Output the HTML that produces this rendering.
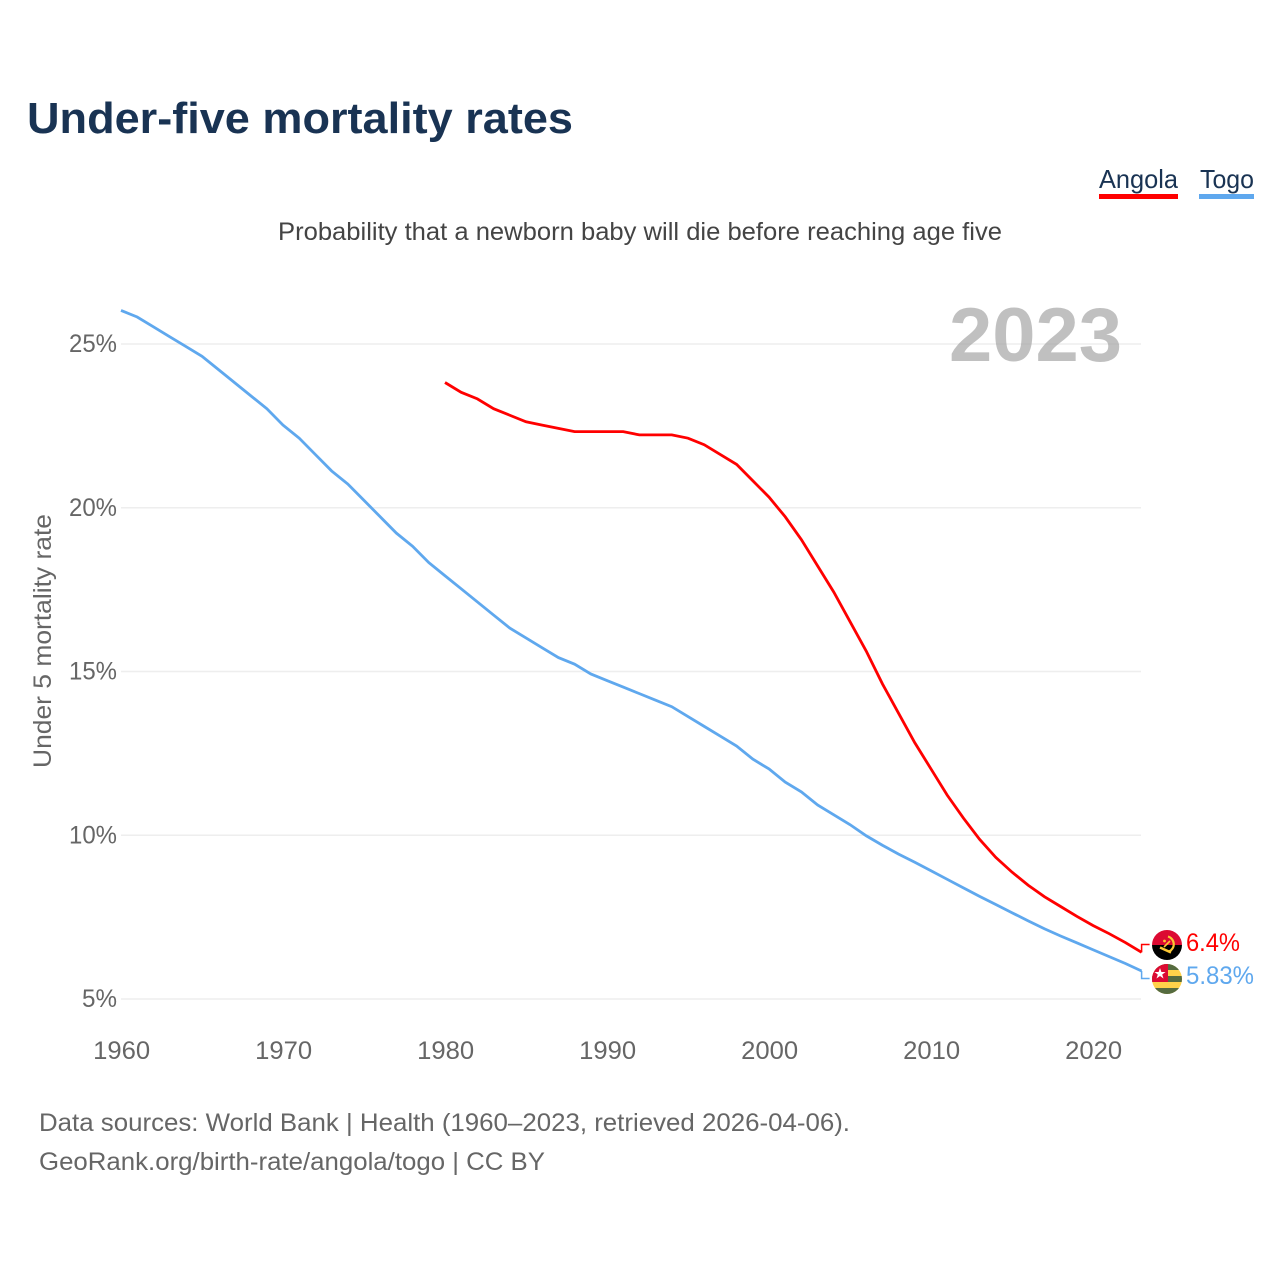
<!DOCTYPE html>
<html lang="en">
<head>
<meta charset="utf-8">
<title>Under-five mortality rates</title>
<style>
html,body{margin:0;padding:0;background:#fff;}
svg{display:block;}
text{font-family:"Liberation Sans",sans-serif;}
</style>
</head>
<body>
<svg id="chart" xmlns="http://www.w3.org/2000/svg" width="1280" height="1280" viewBox="0 0 1280 1280">
  <rect width="1280" height="1280" fill="#fff"/>
  <text x="27" y="133" font-size="44" font-weight="700" fill="#193353" textLength="546" lengthAdjust="spacingAndGlyphs">Under-five mortality rates</text>
  <g>
    <text x="1099" y="188" font-size="26" fill="#193353" textLength="79" lengthAdjust="spacingAndGlyphs">Angola</text>
    <rect x="1099" y="194" width="79" height="5" fill="#ff0000"/>
  </g>
  <g>
    <text x="1200" y="188" font-size="26" fill="#193353" textLength="54" lengthAdjust="spacingAndGlyphs">Togo</text>
    <rect x="1199" y="194" width="55" height="5" fill="#5fa8ee"/>
  </g>
  <text x="278" y="240" font-size="25" fill="#444" textLength="724" lengthAdjust="spacingAndGlyphs">Probability that a newborn baby will die before reaching age five</text>
  <g id="grid"></g>
  <text x="1122" y="361" font-size="76" font-weight="700" fill="#999" fill-opacity="0.62" text-anchor="end" textLength="173" lengthAdjust="spacingAndGlyphs">2023</text>
  <g id="yticks"></g>
  <g id="xticks"></g>
  <text transform="translate(51,768) rotate(-90)" font-size="25" fill="#666" textLength="254" lengthAdjust="spacingAndGlyphs">Under 5 mortality rate</text>
  <g id="series"></g>

  <defs>
    <clipPath id="clip-angola"><circle cx="1167" cy="945" r="15"/></clipPath>
    <clipPath id="clip-togo"><circle cx="1167" cy="979" r="15"/></clipPath>
  </defs>
  <g clip-path="url(#clip-angola)">
    <rect x="1152" y="930" width="30" height="15" fill="#dc0a32"/>
    <rect x="1152" y="945" width="30" height="15" fill="#000"/>
    <path d="M1168 936.5 a8 8 0 0 1 1 15" fill="none" stroke="#fcc733" stroke-width="2.2"/>
    <path d="M1160 947.5 l11 5" fill="none" stroke="#fcc733" stroke-width="2.4"/>
    <path d="M1164 947 l6 -6" fill="none" stroke="#fcc733" stroke-width="1.6"/>
    <circle cx="1164.5" cy="941" r="1.4" fill="#fcc733"/>
  </g>
  <g clip-path="url(#clip-togo)">
    <rect x="1152" y="964" width="30" height="30" fill="#ffd24a"/>
    <rect x="1152" y="964" width="30" height="6" fill="#556b40"/>
    <rect x="1152" y="976" width="30" height="6" fill="#556b40"/>
    <rect x="1152" y="988" width="30" height="6" fill="#556b40"/>
    <rect x="1152" y="964" width="16" height="18" fill="#dc0a32"/>
    <path d="M1160 968 l1.4 4 4.2 0 -3.4 2.5 1.3 4 -3.5 -2.5 -3.5 2.5 1.3 -4 -3.4 -2.5 4.2 0z" fill="#fff"/>
  </g>
  <text x="1186" y="951" font-size="25" fill="#ff0000" textLength="54" lengthAdjust="spacingAndGlyphs">6.4%</text>
  <text x="1186" y="984" font-size="25" fill="#5fa8ee" textLength="68" lengthAdjust="spacingAndGlyphs">5.83%</text>

  <g>
    <text x="39" y="1131" font-size="25" fill="#666" textLength="811" lengthAdjust="spacingAndGlyphs">Data sources: World Bank | Health (1960–2023, retrieved 2026-04-06).</text>
    <text x="39" y="1170" font-size="25" fill="#666" textLength="506" lengthAdjust="spacingAndGlyphs">GeoRank.org/birth-rate/angola/togo | CC BY</text>
  </g>
</svg>
<script>
const togoStartYear = 1960;
const angolaStartYear = 1980;
const togoValues = [26.0,25.8,25.5,25.2,24.9,24.6,24.2,23.8,23.4,23.0,22.5,22.1,21.6,21.1,20.7,20.2,19.7,19.2,18.8,18.3,17.9,17.5,17.1,16.7,16.3,16.0,15.7,15.4,15.2,14.9,14.7,14.5,14.3,14.1,13.9,13.6,13.3,13.0,12.7,12.3,12.0,11.6,11.3,10.9,10.6,10.3,9.96,9.67,9.4,9.15,8.89,8.63,8.37,8.11,7.86,7.61,7.36,7.12,6.90,6.69,6.48,6.27,6.06,5.83];
const angolaValues = [23.8,23.5,23.3,23.0,22.8,22.6,22.5,22.4,22.3,22.3,22.3,22.3,22.2,22.2,22.2,22.1,21.9,21.6,21.3,20.8,20.3,19.7,19.0,18.2,17.4,16.5,15.6,14.6,13.7,12.8,12.0,11.2,10.5,9.85,9.3,8.85,8.45,8.1,7.8,7.5,7.22,6.97,6.7,6.4];
const yTickValues = [5,10,15,20,25];
const xTickYears = [1960,1970,1980,1990,2000,2010,2020];

const NS = 'http://www.w3.org/2000/svg';
function xScale(year){ return 121 + (year - 1960) * 16.2; }
function yScale(v){ return 999 - (v - 5) * 32.75; }
function lineY(v){ return yScale(v) - 0.8; }
function make(tag, attrs){
  const el = document.createElementNS(NS, tag);
  for (const k in attrs) el.setAttribute(k, attrs[k]);
  return el;
}
const grid = document.getElementById('grid');
const yticks = document.getElementById('yticks');
const xticks = document.getElementById('xticks');
const series = document.getElementById('series');

yTickValues.forEach(function(v){
  const line = make('line', {x1:121, x2:1141, y1:yScale(v), y2:yScale(v), stroke:'#eee', 'stroke-width':1.5});
  
  
  grid.appendChild(line);
  const t = make('text', {x:117, y:yScale(v) + 8, 'font-size':25, fill:'#666', 'text-anchor':'end', textLength: v < 10 ? 35 : 48, lengthAdjust:'spacingAndGlyphs'});
  
  
  t.textContent = v + '%';
  yticks.appendChild(t);
});

xTickYears.forEach(function(y){
  const t = make('text', {x:xScale(y) + 0.6, y:1059, 'font-size':25, fill:'#666', 'text-anchor':'middle', textLength:57, lengthAdjust:'spacingAndGlyphs'});
  
  
  t.textContent = y;
  xticks.appendChild(t);
});

function linePoints(values, startYear){
  return values.map(function(v, i){ return xScale(startYear + i).toFixed(2) + ',' + lineY(v).toFixed(2); }).join(' ');
}
function leader(values, startYear, labelY){
  const ex = xScale(startYear + values.length - 1);
  const ey = lineY(values[values.length - 1]);
  return ex + ',' + ey + ' ' + ex + ',' + labelY + ' ' + (ex + 8) + ',' + labelY;
}

const togoLine = make('polyline', {points:linePoints(togoValues, togoStartYear), fill:'none', stroke:'#5fa8ee', 'stroke-width':2.8});


series.appendChild(togoLine);

const angolaLine = make('polyline', {points:linePoints(angolaValues, angolaStartYear), fill:'none', stroke:'#ff0000', 'stroke-width':2.8});


series.appendChild(angolaLine);

const togoLeader = make('polyline', {points:leader(togoValues, togoStartYear, 978.5), fill:'none', stroke:'#5fa8ee', 'stroke-width':1.5});


series.appendChild(togoLeader);

const angolaLeader = make('polyline', {points:leader(angolaValues, angolaStartYear, 944.5), fill:'none', stroke:'#ff0000', 'stroke-width':1.5});


series.appendChild(angolaLeader);
</script>
</body>
</html>
